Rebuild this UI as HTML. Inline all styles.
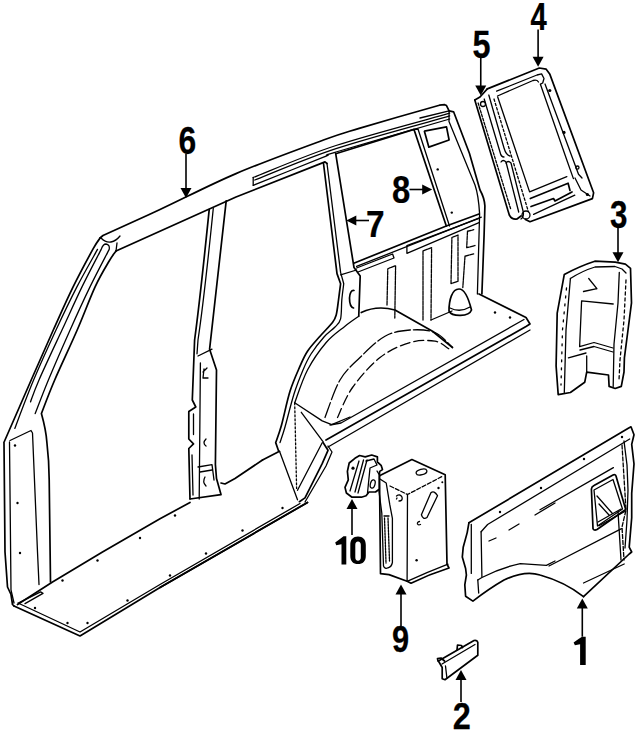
<!DOCTYPE html>
<html><head><meta charset="utf-8">
<style>
html,body{margin:0;padding:0;background:#fff;width:640px;height:736px;overflow:hidden}
svg{position:absolute;left:0;top:0}
.l{fill:none;stroke:#000;stroke-width:1.7;stroke-linejoin:round;stroke-linecap:round}
.t{fill:none;stroke:#000;stroke-width:1.3;stroke-linejoin:round;stroke-linecap:round}
.d{fill:none;stroke:#000;stroke-width:1.2;stroke-dasharray:9 3}
.f{fill:#000;stroke:none}
.n{font-family:"Liberation Sans",sans-serif;font-weight:bold;fill:#000;stroke:#000;stroke-width:0.25}
.a{fill:none;stroke:#000;stroke-width:1.6}
</style></head>
<body>
<svg width="640" height="736" viewBox="0 0 640 736">
<!-- PART 6 -->
<g id="p6">
<!-- roof outer -->
<path class="l" d="M100,238 L103,235.5 C112.5,231.2 137.8,219.8 160.0,209.5 C182.2,199.2 208.8,185.2 236.0,173.6 C263.2,162.0 302.8,147.6 323.5,140.0 C344.2,132.4 340.7,133.9 360.0,128.1 C379.3,122.3 426.2,109.0 439.4,105.2 L444.7,104.7 L446.5,105.6 L449.1,110.9"/>
<!-- roof strip -->



<!-- roof inner / door opening top -->
<path class="t" d="M253.2,177.5 C267.0,172.2 303.2,156.2 336.0,145.5 C368.8,134.8 430.8,118.6 449.7,113.2"/>
<path class="t" d="M254.8,180.0 C268.3,174.8 303.5,159.3 336.0,148.6 C368.5,137.9 430.8,121.4 449.7,116.0"/>
<path class="t" d="M253.2,185.3 C264.9,180.6 309.7,162.8 323.5,157.2 C337.3,151.6 315.0,158.4 336.0,152.0 C357.0,145.6 430.8,124.5 449.7,119.0"/>
<path class="t" d="M253.2,177.5 L253.2,185.3"/>
<path class="l" d="M116,251 L236,197 L325,161.9 L327,163.5"/>

<!-- A pillar -->
<path class="l" d="M100.3,237.8 C99.0,239.7 97.3,241.2 92.8,249.4 C88.3,257.6 79.7,273.5 73.1,286.9 C66.5,300.3 60.3,314.5 53.3,330.0 C46.3,345.5 39.5,361.2 31.2,380.0 C23.0,398.8 8.5,432.1 3.9,442.5 L4,443 L5,552 L7.5,587 L11,594.5 L12.5,604.5 L14,606"/>
<path class="t" d="M97.5,249.4 C94.1,255.7 83.8,273.5 76.9,286.9 C70.0,300.3 63.2,314.5 56.0,330.0 C48.8,345.5 40.5,363.6 33.6,380.0 C26.7,396.4 17.9,420.3 14.8,428.4"/>
<path class="t" d="M30.5,401.9 C31.9,398.2 33.8,392.0 39.0,380.0 C44.2,368.0 54.8,345.5 62.0,330.0 C69.2,314.5 75.5,300.3 82.0,286.9 C88.5,273.5 98.0,255.7 101.2,249.4 Q103,244 106,244 Q110,244.5 109.2,249.4 C106.0,255.7 96.5,273.5 90.0,286.9 C83.5,300.3 77.0,314.5 70.1,330.0 C63.2,345.5 54.2,366.1 48.4,380.0 C42.6,393.9 37.4,408.0 35.2,413.6"/>

<path class="l" d="M116.0,251.0 C114.9,252.7 112.7,255.0 109.2,261.0 C105.7,267.0 100.4,275.4 95.1,286.9 C89.8,298.4 83.9,314.5 77.2,330.0 C70.5,345.5 60.7,366.1 54.7,380.0 C48.7,393.9 43.6,408.0 41.4,413.6 Q46,430 46.9,442.5 Q49,460 49.2,480 L50.5,582"/>
<path class="t" d="M9.5,442 L11,590 L14,603"/>
<path class="t" d="M101,238 Q106,243 111,242 Q116,241 120,236 M116,251 L117,243"/>
<path class="t" d="M10,440.5 L31,430.5 L32.5,433 L37.5,552 L39,584.5"/>
<!-- floor -->
<path class="l" d="M14,606 L80,636 L160,587.5 L307.5,502.5"/>
<path class="l" d="M17.5,604.5 L52.5,582 L102.5,552 L160,518.75 L190,502.5"/>
<path class="l" d="M262.5,460 L279.5,451.3"/>
<!-- B pillar -->






<!-- B pillar -->
<path class="l" d="M209.2,209.7 Q200,300 194.6,340 L192.3,400 L195.8,407 L188.8,411.5 L188.8,439 L193.5,443.9 L188.8,448.5 L190,499"/>
<path class="t" d="M213.3,208.3 Q204,300 198,340 L197,353.8 M193.5,414 L193.5,434.6 M192,455 L193,495"/>
<path class="l" d="M226.2,200.9 Q215,300 209.6,349.2 L216.5,370 L215.4,464.6 L216.5,478.5 L221,494.6 L190,499"/>
<path class="t" d="M198,356 L212,349.2 M200.4,363 L199.2,499"/>
<path class="t" d="M204,369 L203,378 L208,378 M203,372 L207,368"/>
<path class="t" d="M206,439 Q202,443 206,446"/>
<path class="t" d="M198,467 L212,464.6 L214,480 M200,472 L212,470 M205,477 Q202,482 206,486"/>
<path class="l" d="M221,483 L225,484 L235,478.5 L262.5,460"/>




<g><circle class="f" cx="62.5" cy="580.5" r="1.2"/><circle class="f" cx="97.5" cy="560.5" r="1.2"/><circle class="f" cx="140" cy="538" r="1.2"/><circle class="f" cx="175" cy="515.5" r="1.2"/><circle class="f" cx="35" cy="608" r="1.2"/><circle class="f" cx="67.5" cy="623" r="1.2"/><circle class="f" cx="87.5" cy="623" r="1.2"/><circle class="f" cx="127.5" cy="600.5" r="1.2"/><circle class="f" cx="170" cy="575.5" r="1.2"/><circle class="f" cx="206" cy="553.5" r="1.2"/><circle class="f" cx="242.5" cy="530.5" r="1.2"/><circle class="f" cx="282.5" cy="508" r="1.2"/><circle class="f" cx="15" cy="445.5" r="1.2"/><circle class="f" cx="17.5" cy="503" r="1.2"/><circle class="f" cx="20" cy="553" r="1.2"/><circle class="f" cx="495" cy="312.5" r="1.2"/><circle class="f" cx="510" cy="317.5" r="1.2"/></g>
<!-- C pillar -->
<path class="l" d="M323.5,163.5 L337,273.6 L340.6,283.75 C340.2,286.5 339.2,294.8 338.5,300.0 C337.8,305.2 337.2,311.2 336.2,315.0 C335.2,318.8 335.2,319.0 332.5,322.5 C329.8,326.0 324.2,331.5 320.0,336.2 C315.8,341.0 310.8,346.2 307.5,351.2 C304.2,356.2 302.9,359.6 300.0,366.2 C297.1,372.9 293.1,381.4 290.0,391.3 C286.9,401.2 283.8,416.9 281.4,425.5 C279.0,434.1 276.6,439.8 275.7,442.6 L278.6,451"/>
<path class="t" d="M327,163.5 L340.6,272.4 L343.75,283.75 C343.4,286.5 342.3,294.2 341.8,300.0 C341.3,305.8 341.7,314.2 340.6,318.8 C339.5,323.2 337.8,324.0 335.0,327.0 C332.2,330.0 328.0,332.5 324.0,337.0 C320.0,341.5 314.5,348.5 311.0,354.0 C307.5,359.5 305.8,363.3 303.0,370.0 C300.2,376.7 297.0,384.5 294.0,394.0 C291.0,403.5 287.3,418.9 285.0,427.0 C282.7,435.1 280.8,440.0 280.0,442.6"/>
<path class="t" d="M358.8,316.2 C356.5,317.9 350.4,321.9 345.0,326.2 C339.6,330.6 332.5,335.2 326.2,342.5 C320.0,349.8 312.8,359.9 307.5,370.0 C302.2,380.1 296.8,397.3 294.7,402.8"/>
<path class="l" d="M335.7,153.7 L354,267.5 L360.2,276 L358.75,316.25"/>
<path class="t" d="M340.6,274.8 L356.5,270"/>
<path class="l" d="M354,290.5 Q350,290 349.5,298 Q349.5,307 353.5,308"/>
<!-- quarter window -->
<path class="l" d="M335.7,153.7 L414,129.4 L446.3,226"/>
<path class="t" d="M414,129.4 L418,129 L449.5,226"/>
<path class="l" d="M424.4,131.2 L446.5,126.8 L449.1,140 L428.8,147.1 Z"/>
<circle class="f" cx="437.7" cy="169.4" r="1.2"/>
<circle class="f" cx="451.8" cy="212.6" r="1.2"/>
<!-- roof top face near rear -->
<path class="t" d="M420,118 L449.1,110.9"/>
<!-- D pillar -->
<path class="t" d="M449.1,110.9 L449,121.5 L475,185 Q478.5,195 479.6,213.9 L477.4,294"/>
<path class="l" d="M449.1,110.9 L453.6,111.8 L469.4,153.3 L480,190 Q484.5,198 484.9,206 L484.1,234.8 L481.9,294"/>
<!-- belt line -->
<path class="l" d="M354.4,263 L446.3,226 L479,214"/>
<path class="t" d="M356.6,266.4 L481.3,217.2"/>
<path class="t" d="M356.6,268 L392.6,254 L394,258 L358,272"/>
<path class="t" d="M406.9,245.6 L479,218.3 M406.9,253.3 L479,222.7 M406.9,245.6 L406.9,253.3"/>
<!-- ribs -->
<path class="t" d="M387,305 L387.8,268.75 L395.6,265.6 L394.8,318" stroke-dasharray="4 1"/>
<path class="t" d="M423,320 L423,250.8 L431.6,247.7 L431,320" stroke-dasharray="4 1"/>
<path class="t" d="M451,283.6 L451.9,237.5 L458,235 L458,281.25 L451,283.6" stroke-dasharray="4 1"/>
<path class="t" d="M467.5,231.25 L473.75,229.7 M467.5,231.25 L466.7,247.7 L475,245.5 M465,256.25 L473.75,253.9 M465,256.25 L462.8,287.5" stroke-dasharray="4 1"/>
<path class="t" d="M431,320 L452,311"/>
<!-- wheelhouse -->
<path class="l" d="M361.25,312.5 Q377,305 395,310 L432.5,331.25 L452.5,347.5"/>
<path class="t" d="M325.0,417.5 C327.5,411.2 334.2,390.0 340.0,380.0 C345.8,370.0 352.5,364.8 360.0,357.5 C367.5,350.2 376.7,340.8 385.0,336.2 C393.3,331.7 401.7,330.6 410.0,330.0 C418.3,329.4 427.9,329.6 435.0,332.5 C442.1,335.4 449.6,345.0 452.5,347.5" stroke-dasharray="16 3"/>
<path class="t" d="M337.5,417.5 C340.0,412.5 345.4,397.5 352.5,387.5 C359.6,377.5 370.4,365.0 380.0,357.5 C389.6,350.0 400.8,345.2 410.0,342.5 C419.2,339.8 428.5,340.2 435.0,341.2 C441.5,342.3 446.5,347.5 448.8,348.8" stroke-dasharray="10 4"/>
<!-- cargo floor -->
<path class="l" d="M479,294 L526,317.5 L530,324 L526,326.5 L326,440"/>
<path class="t" d="M524,319.5 L341,423 L330,425"/>
<path class="t" d="M530,330 L328,447"/>
<path class="t" d="M294.7,402.8 L322.2,420.9 L331.7,424.7 L350,417"/>
<path class="t" d="M294.7,402.8 L296.6,488.4" stroke-dasharray="2 2"/>
<path class="t" d="M301.3,412.3 L323.2,441.8"/>
<path class="t" d="M279.5,451.3 L297.5,499.8"/>
<path class="t" d="M322.2,442.7 L297.5,490.3"/>
<path class="l" d="M160,587.5 L307.5,502.5"/>
<path class="t" d="M18,603 L80,632 L160,584.5 L300,503.5 M18.75,602.8 L40.6,591.9 M25,603.6 L43,593.4 L40.6,591.9"/>
<path class="l" d="M299.4,501.7 L305,497.9 L322.2,463.7 L328,450.3 L323.2,442.7"/>
<path class="t" d="M305,502 L326,466 L332,452 L328,446"/>

<path class="l" d="M449,311 C449,300 452,289 459,289 C465,289 469,300 471.5,310 C469,317 452,317 449,311 Z"/>
<path class="t" d="M450,308 Q460,313 470,307"/>
</g>

<!-- PART 4 / 5 -->
<g id="p4">
<path class="l" d="M487.3,88.9 L539.3,68 L546.2,69.2 L549.7,73.9 L593.6,192.8 L592.4,198.6 L530,221.7 L525.4,219.4"/>
<path class="t" d="M496.6,91.2 L537,75 L541.6,73.9 L544,78.5 L542.7,83 L540.4,84.2 L566.8,160 L573.4,178.6"/>
<path class="t" d="M545,84 L578.5,174.3 L582,178"/>
<path class="t" d="M497.5,96 L533,80.5 Q537,79.5 538.5,82"/>
<path class="t" d="M497.7,97 L529.6,191.9 L566.8,176.6"/>
<path class="l" d="M530.3,198.5 L568.1,183.2 L570,190.5 M531,206.5 L553.5,198.5 L555,201 L572,192"/>
<path class="t" d="M533.6,214.4 L574.8,195.2 M575,178 L581,190 L590,196"/>
<path class="l" d="M474.8,100 L480,97 L487.3,88.9"/>
<path class="l" d="M474.8,100 L509.3,215 Q512,220 517,219 L521,216"/>
<path class="t" d="M478.1,103 L511,210" stroke-dasharray="2.5 1.5"/>
<path class="t" d="M484.2,99 L500,152 Q501,157 504,157"/>
<path class="t" d="M501,162 Q503,159 506,162 L518.7,212"/>
<path class="t" d="M488.8,95 L504,148 Q506,155 510,156"/>
<path class="t" d="M506,163 Q508,160 511,163 L523.3,212 Q524,217 521,219"/>
<path class="t" d="M494,99 L528.5,212" stroke-dasharray="2.5 2"/>
<circle class="t" cx="483" cy="104" r="2.5"/>
<circle class="t" cx="526" cy="215" r="4"/>
<circle class="f" cx="549.8" cy="90.5" r="1.6"/>
<circle class="f" cx="564" cy="132.4" r="1.6"/>
<circle class="t" cx="577.4" cy="167.6" r="1.6"/>
<circle class="f" cx="587.4" cy="194.5" r="1.6"/>
</g>
<!-- PART 3 -->
<g id="p3">
<path class="l" d="M564.3,274.4 Q580,266 594.8,261.2 L615.2,262.2 L625.4,264.2 L630.5,268.3 L631.5,302.9 L628,330 L624.4,357.9 L624,372 L621.3,386.4 L615.2,388.5 L609.1,386.4 L608.5,375 L586.7,372.2 L584.7,382.3 L570.4,392.5 L558.2,394.6 L556.1,366 L557.2,313.1 Z"/>
<path class="t" d="M570.4,278.5 Q582,271 595,267 L615,266.5 L622,269 L626,273"/>
<path class="t" d="M570.4,278.5 L566,330 L564.3,392.5"/>
<path class="t" d="M566.5,288 L562.5,330 L561,385" stroke-dasharray="2 6"/>
<path class="t" d="M619.3,272.4 L618,303 L614,344 L613.2,386.4"/>
<path class="t" d="M626,280 L624,320 L620,360 L619,380" stroke-dasharray="3 3"/>
<path class="t" d="M581.6,300.9 L613.2,304 M581.6,300.9 L579.6,346.7 L594,342.5 L613,348"/>
<path class="t" d="M580,350 L594,346.5 L613,352"/>
<path class="t" d="M568.4,357.9 L586,353 M586.7,355.9 L586.7,372.2"/>
<path class="t" d="M588.7,278.5 L596.9,288.7 M583.5,291.5 L596.9,288.7"/>
</g>
<!-- PART 1 -->
<g id="p1">
<path class="l" d="M468.9,522.8 L628.3,428.2 L631,426.8 L634,434.7 L631.7,444.4 L634,464 L631.7,493.3 L631.7,517.8 L629.2,547.1 L631.7,552 L629.2,554 L583.5,596.6"/>
<path class="t" d="M624,441 L627,465 L628,490 L627,520 L625,548"/>
<path class="l" d="M468.9,522.8 L467.2,532.6 L463.2,547.3 L462.3,557.1 L465.6,568.5 L466.4,575 L464.8,584.8 L465.6,596.2 L472.9,601.1 Q490,588 504,580 Q525,570 540,575 Q565,582 583.5,596.6"/>
<path class="t" d="M481.1,531.8 L487.6,524.5 L629.7,439"/>
<path class="t" d="M471.3,524.5 L471.3,573.4"/>
<path class="t" d="M481.1,531.8 L481.9,576.7"/>
<path class="t" d="M477.8,580 L481.9,577.5 Q500,568 520.3,563.6 L546.4,565.3 L555,561"/>
<path class="t" d="M477.8,580 L478.7,593"/>
<path class="t" d="M549,566 L621.5,528.7"/>
<path class="t" d="M583.5,583 L624.2,564"/>
<path class="t" d="M540,509.7 L613.4,467.6"/>
<path class="t" d="M622,445 L626,510 L622,527 L624,560" stroke-dasharray="4 2"/>
<path class="t" d="M618,511.4 L621,560"/>
<path class="t" d="M489,541 L496,538 M509,530 L519,524 M535,515 L555,503"/>
<path class="l" d="M591.4,489 Q591.5,486.7 594,485.5 L613,475 Q615.2,474 616,476 L625.7,509.5 L597,529.5 Q594,531 593,528.6 Z"/>
<path class="t" d="M594,490 L613,479.5 L622.5,509 L597.5,526 Z"/>
<path class="t" d="M597,496 L612,513 M599,504 L609,515 M599,525.7 L625.7,511 M598,522 L621,509"/>
<circle class="f" cx="500" cy="512" r="1.2"/>
<circle class="f" cx="584" cy="459" r="1.2"/>
<circle class="f" cx="622" cy="437" r="1.2"/>
<circle class="f" cx="541" cy="488" r="1.2"/>
</g>
<!-- PART 9 -->
<g id="p9">
<path class="l" d="M379.5,475.7 L411.9,459.5 L445.2,474.7 L447,564.2 L449,568 Q430,574 411,583.2 L407.1,581.3 L389,574.6 L380.5,573.7 Z" fill="#fff" style="fill:#fff"/>
<path class="t" d="M390,486 L407.5,494.5 L443,476" stroke-dasharray="4 2"/>
<path class="t" d="M407.5,494.5 L407.1,581.3"/>
<path class="t" d="M407.1,581.3 Q428,572 448,564.2"/>
<ellipse class="t" cx="421.5" cy="472" rx="5.5" ry="2.8" transform="rotate(-15 421.5 472)"/>
<path class="t" d="M421.4,514.7 L430.9,492.8 Q434,490 437.5,495.7 L427,517.5 Q423,520 421.4,514.7 Z"/>
<path class="t" d="M377.4,477.7 Q379,491.8 381.8,513 L383.5,566 Q385,569.5 388,567.8 Q391.5,567 392.4,562.5 L392.4,518.3 L389.7,504.2 L386.2,483 L378,477.7"/>
<path class="t" d="M384.5,518 L386,563 M388,518 L389.5,561" stroke-dasharray="2 1"/>
<path class="t" d="M384,516 L389,516"/>
<path class="t" d="M396.5,496 Q400,493.5 402,497 Q403,501 399,501 M396.5,499 L397,498"/>

<circle class="f" cx="438.5" cy="488" r="1.2"/>
<circle class="f" cx="442.3" cy="482.3" r="1"/>
<path class="t" d="M419.5,521.5 Q417,522 417.5,524 Q418.5,525.5 420.5,524.5"/>
<circle class="f" cx="416.6" cy="560.3" r="1.2"/>
</g>
<!-- PART 10 -->
<g id="p10">
<path class="l" style="fill:#fff" d="M359.6,455.5 L365.2,456.9 L371.7,455 L377.4,456.9 L377.4,462 L381.1,465.3 L382.5,469.6 L379.7,471.4 L379.2,476.1 L379.2,489.2 L375.5,492 L369,492 L366.1,495.8 L361.4,497.2 L352,497.2 L346.4,493 L345,487.4 L348.3,479.9 L347.4,471.4 L349.2,463 L354.9,458.3 Z"/>
<path class="t" d="M359,461 L350,491 M363.5,460 L355,492 M367,460 L358,493"/>
<path class="t" d="M366,461 L374,459 L377,465 L370,468 L367.5,493"/>
<ellipse class="t" cx="372.7" cy="484" rx="2.3" ry="4.2" transform="rotate(15 372.7 484)"/>
<circle class="f" cx="353" cy="468.2" r="1.6"/>
<path class="t" d="M377,471 L380,476"/>
</g>
<!-- PART 2 -->
<g id="p2">
<path class="l" d="M438.4,661 L474,640.5 Q477,640 477.8,642.2 L477.8,655.3 L445,679.7 L442.2,678.7 L442.2,667.5 Z"/>
<path class="t" d="M442,664 L475,644.5 M445.5,666 L446.9,678"/>
<path class="l" d="M438,661 L437.5,658.5 L441,658 L444.5,661 M457,650 L457.5,645 L461.5,645.5 L462.5,647.5"/>
</g>
<g id="labels">
<path class="f" d="M582,636.7 L585.7,636.7 L585.7,665 L580.1,665 L580.1,644.2 L574.9,645.2 L573.6,642.4 L578.5,639 Z"/>
<text class="n" transform="translate(452.73,729.30) scale(0.877,1)" font-size="37.00">2</text>
<text class="n" transform="translate(610.07,227.50) scale(0.826,1)" font-size="38.00">3</text>
<text class="n" transform="translate(530.52,29.50) scale(0.747,1)" font-size="39.14">4</text>
<text class="n" transform="translate(472.43,57.70) scale(0.849,1)" font-size="38.14">5</text>
<text class="n" transform="translate(178.42,153.50) scale(0.811,1)" font-size="39.29">6</text>
<text class="n" transform="translate(365.96,237.20) scale(0.906,1)" font-size="36.86">7</text>
<text class="n" transform="translate(392.12,202.80) scale(0.865,1)" font-size="37.93">8</text>
<text class="n" transform="translate(391.97,651.7) scale(0.840,1)" font-size="36.7">9</text>
<path class="f" d="M343.5,536.2 L346.3,536.2 L346.3,564.4 L341.5,564.4 L341.5,544.2 L336.2,545.2 L335.2,542.6 L340.3,538.8 Z"/>
<path class="f" fill-rule="evenodd" d="M358,536.6 C362.8,536.6 365.8,539.5 365.8,545 L365.8,556 C365.8,561.2 362.8,564.1 358,564.1 C353.2,564.1 350.3,561.2 350.3,556 L350.3,545 C350.3,539.5 353.2,536.6 358,536.6 Z M358,541.5 C356.2,541.5 355.3,542.8 355.3,545 L355.3,557.3 C355.3,559.5 356.2,560.8 358,560.8 C359.8,560.8 360.8,559.5 360.8,557.3 L360.8,545 C360.8,542.8 359.8,541.5 358,541.5 Z"/>
<path class="a" d="M186.0,153.5 L186.0,189.1"/>
<path class="f" d="M180.5,188.1 L191.5,188.1 L186.0,198.1 Z"/>
<path class="a" d="M538.1,29.5 L538.1,57.8"/>
<path class="f" d="M532.6,56.8 L543.6,56.8 L538.1,66.8 Z"/>
<path class="a" d="M480.75,57.7 L480.75,86.6"/>
<path class="f" d="M475.25,85.6 L486.25,85.6 L480.75,95.6 Z"/>
<path class="a" d="M618.0,227.5 L618.0,253.3"/>
<path class="f" d="M612.5,252.3 L623.5,252.3 L618.0,262.3 Z"/>
<path class="a" d="M352.0,535 L352.0,508"/>
<path class="f" d="M346.5,509 L357.5,509 L352.0,499 Z"/>
<path class="a" d="M401.0,626 L401.0,593.6"/>
<path class="f" d="M395.5,594.6 L406.5,594.6 L401.0,584.6 Z"/>
<path class="a" d="M582.3,636.7 L582.3,607.5"/>
<path class="f" d="M576.8,608.5 L587.8,608.5 L582.3,598.5 Z"/>
<path class="a" d="M461.0,702 L461.0,679"/>
<path class="f" d="M455.5,680 L466.5,680 L461.0,670 Z"/>
<path class="a" d="M409.5,189.5 L423.2,189.5"/>
<path class="f" d="M422.2,184.5 L422.2,194.5 L432.2,189.5 Z"/>
<path class="a" d="M369,220.5 L355.3,220.5"/>
<path class="f" d="M356.3,215.5 L356.3,225.5 L346.3,220.5 Z"/>

</g>
</svg>
</body></html>
